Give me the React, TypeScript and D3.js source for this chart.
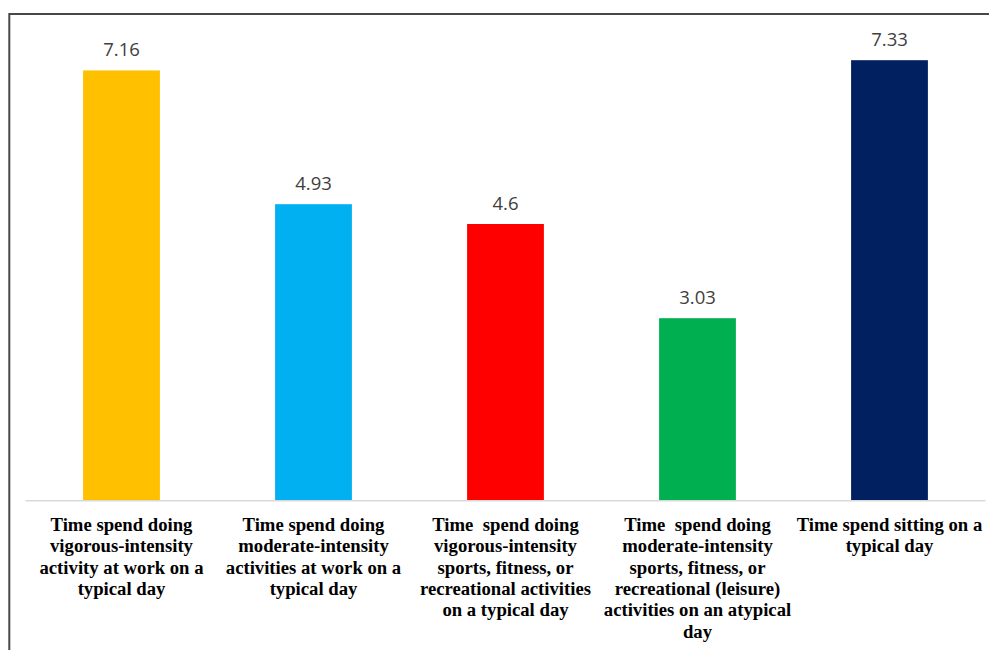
import React from "react";
import * as d3 from "d3";

const categories: string[][] = [
  ["Time spend doing", "vigorous-intensity", "activity at work on a", "typical day"],
  ["Time spend doing", "moderate-intensity", "activities at work on a", "typical day"],
  ["Time  spend doing", "vigorous-intensity", "sports, fitness, or", "recreational activities", "on a typical day"],
  ["Time  spend doing", "moderate-intensity", "sports, fitness, or", "recreational (leisure)", "activities on an atypical", "day"],
  ["Time spend sitting on a", "typical day"],
];
const values: number[] = [7.16, 4.93, 4.6, 3.03, 7.33];
const valueLabels: string[] = ["7.16", "4.93", "4.6", "3.03", "7.33"];
const colors: string[] = ["#FFC000", "#00B0F0", "#FF0000", "#00B050", "#002060"];

const W = 989;
const H = 650;

export default function App() {
  const idx = values.map((_, i) => i);
  const x = d3
    .scaleBand<number>()
    .domain(idx)
    .range([25.5, 985.5])
    .paddingInner(0.6)
    .paddingOuter(0.3);
  const y = d3.scaleLinear().domain([0, 8]).range([500, 20]);

  return (
    <svg
      width={W}
      height={H}
      style={{ position: "absolute", left: 0, top: 0, background: "#fff" }}
    >
      <rect x={0} y={0} width={W} height={H} fill="#fff" />
      <line x1={9.3} y1={14} x2={W} y2={14} stroke="#474747" strokeWidth={2} />
      <line x1={9.3} y1={13} x2={9.3} y2={H} stroke="#474747" strokeWidth={2} />
      {idx.map((i) => (
        <rect
          key={"b" + i}
          x={x(i)!}
          y={y(values[i])}
          width={x.bandwidth()}
          height={y(0) - y(values[i])}
          fill={colors[i]}
        />
      ))}
      <line x1={25.5} x2={985.5} y1={500.75} y2={500.75} stroke="#d9d9d9" strokeWidth={1.5} />
      {idx.map((i) => (
        <text
          key={"v" + i}
          x={x(i)! + x.bandwidth() / 2}
          y={y(values[i]) - 14}
          textAnchor="middle"
          fontFamily="'Open Sans', sans-serif"
          fontSize={18.5}
          fill="#404040"
        >
          {valueLabels[i]}
        </text>
      ))}
      {idx.map((i) => (
        <text
          key={"c" + i}
          textAnchor="middle"
          fontFamily="'Liberation Serif', 'Times New Roman', serif"
          fontWeight="bold"
          fontSize={18.7}
          fill="#000"
          style={{ whiteSpace: "pre" }}
        >
          {categories[i].map((line, j) => (
            <tspan key={j} x={x(i)! + x.bandwidth() / 2} y={531 + j * 21.3}>
              {line}
            </tspan>
          ))}
        </text>
      ))}
    </svg>
  );
}
